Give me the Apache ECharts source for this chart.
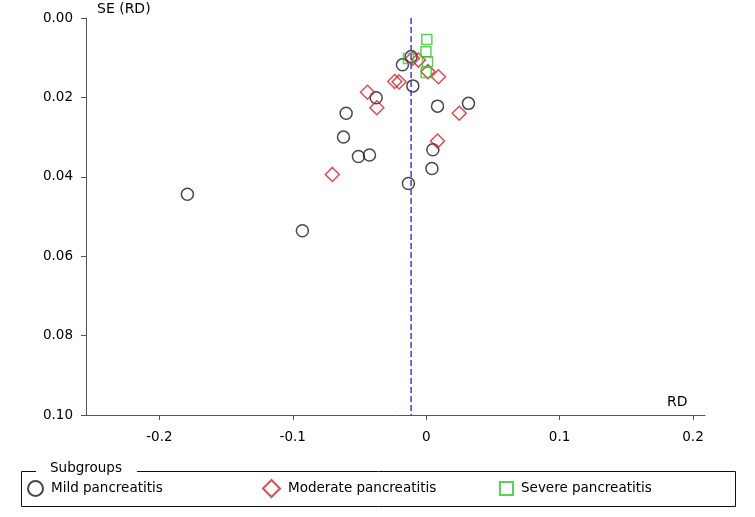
<!DOCTYPE html>
<html>
<head>
<meta charset="utf-8">
<script src="https://cdn.jsdelivr.net/npm/echarts@6/dist/echarts.min.js"></script>
<style>
html,body{margin:0;padding:0;background:#fff;}
#chart{width:755px;height:517px;}
</style>
</head>
<body>
<div id="chart"></div>
<script>
// ---- data ----
var mildRD = [-0.179, -0.0928, -0.0508, -0.0425, -0.062, -0.060, -0.0375, -0.0178, -0.0113, -0.010, -0.0133, 0.0085, 0.0317, 0.005, 0.0043];
var mildSE = [0.0444, 0.0536, 0.0349, 0.0345, 0.0300, 0.0240, 0.0201, 0.0118, 0.0097, 0.0171, 0.0417, 0.0222, 0.0215, 0.0332, 0.0379];
var moderateRD = [-0.0703, -0.044, -0.037, -0.0236, -0.0203, -0.0103, -0.0058, 0.0013, 0.0092, 0.0248, 0.0085];
var moderateSE = [0.0394, 0.0187, 0.0226, 0.0160, 0.0161, 0.0102, 0.0106, 0.0135, 0.0148, 0.0240, 0.0310];
var severeRD = [0.0005, -0.0002, 0.001, 0.0, -0.0133];
var severeSE = [0.0054, 0.0085, 0.0110, 0.0137, 0.0102];
var pooledRD = -0.0113;
var xTicks = [-0.2, -0.1, 0, 0.1, 0.2];
var yTicks = [0.00, 0.02, 0.04, 0.06, 0.08, 0.10];
var seriesNames = ['Mild pancreatitis', 'Moderate pancreatitis', 'Severe pancreatitis'];

function pairs(xs, ys) { return xs.map(function (x, i) { return [x, ys[i]]; }); }

var FONT = 'DejaVu Sans';
var FS = 13.5;
var chart = echarts.init(document.getElementById('chart'), null, {renderer: 'canvas'});
var axisColor = '#555';
var textColor = '#000';

var legendBase = {
  orient: 'horizontal',
  padding: 0,
  textStyle: {fontFamily: FONT, fontSize: FS, color: textColor, padding: [0, 0, 0, 3]},
  selectedMode: false
};

chart.setOption({
  animation: false,
  backgroundColor: '#fff',
  grid: {left: 86, right: 50, top: 18, bottom: 102, containLabel: false, outerBoundsMode: 'none'},
  xAxis: {
    type: 'value',
    min: -0.255,
    max: 0.209,
    axisLine: {show: true, onZero: false, lineStyle: {color: axisColor, width: 1}},
    axisTick: {show: true, length: 5, customValues: xTicks, lineStyle: {color: axisColor}},
    axisLabel: {
      customValues: xTicks, margin: 15, color: textColor, fontFamily: FONT, fontSize: FS,
      formatter: function (v) { return String(Math.round(v * 10) / 10); }
    },
    splitLine: {show: false}
  },
  yAxis: {
    type: 'value',
    inverse: true,
    min: 0,
    max: 0.1,
    interval: 0.02,
    axisLine: {show: true, onZero: false, lineStyle: {color: axisColor, width: 1}},
    axisTick: {show: true, length: 5, customValues: yTicks, lineStyle: {color: axisColor}},
    axisLabel: {
      customValues: yTicks, margin: 13, color: textColor, fontFamily: FONT, fontSize: FS,
      formatter: function (v) { return v.toFixed(2); }
    },
    splitLine: {show: false}
  },
  legend: [
    Object.assign({}, legendBase, {left: 27, top: 480, data: [{name: seriesNames[0], icon: 'circle'}], itemWidth: 15, itemHeight: 15}),
    Object.assign({}, legendBase, {left: 262, top: 479, data: [{name: seriesNames[1], icon: 'diamond'}], itemWidth: 17, itemHeight: 17}),
    Object.assign({}, legendBase, {left: 499, top: 481, data: [{name: seriesNames[2], icon: 'rect'}], itemWidth: 13, itemHeight: 13})
  ],
  graphic: [
    {type: 'rect', shape: {x: 21.5, y: 471.5, width: 714, height: 35}, style: {fill: 'none', stroke: '#111', lineWidth: 1}, z: 0},
    {type: 'text', x: 36, y: 468, style: {text: 'Subgroups', font: '13.5px "DejaVu Sans"', fill: textColor, backgroundColor: '#fff', padding: [1, 15, 1, 14], verticalAlign: 'middle'}, z: 1},
    {type: 'text', x: 97, y: 9, style: {text: 'SE (RD)', font: '14px "DejaVu Sans"', fill: textColor, verticalAlign: 'middle'}},
    {type: 'text', x: 667, y: 402, style: {text: 'RD', font: '14px "DejaVu Sans"', fill: textColor, verticalAlign: 'middle'}}
  ],
  series: [
    {
      type: 'line',
      name: 'pooled',
      data: [[pooledRD, 0], [pooledRD, 0.1]],
      symbol: 'none',
      silent: true,
      lineStyle: {color: '#5046d8', width: 1.6, type: [6, 3]},
      z: 3
    },
    {
      type: 'scatter', name: seriesNames[0], data: pairs(mildRD, mildSE),
      symbol: 'circle', symbolSize: 12,
      itemStyle: {color: 'rgba(0,0,0,0)', borderColor: '#1a1a1a', borderWidth: 1.5}, z: 2
    },
    {
      type: 'scatter', name: seriesNames[1], data: pairs(moderateRD, moderateSE),
      symbol: 'diamond', symbolSize: 14,
      itemStyle: {color: 'rgba(0,0,0,0)', borderColor: '#d41f2a', borderWidth: 1.5}, z: 2
    },
    {
      type: 'scatter', name: seriesNames[2], data: pairs(severeRD, severeSE),
      symbol: 'rect', symbolSize: 10,
      itemStyle: {color: 'rgba(0,0,0,0)', borderColor: '#2ec82e', borderWidth: 1.5}, z: 2
    }
  ]
});
</script>
</body>
</html>
